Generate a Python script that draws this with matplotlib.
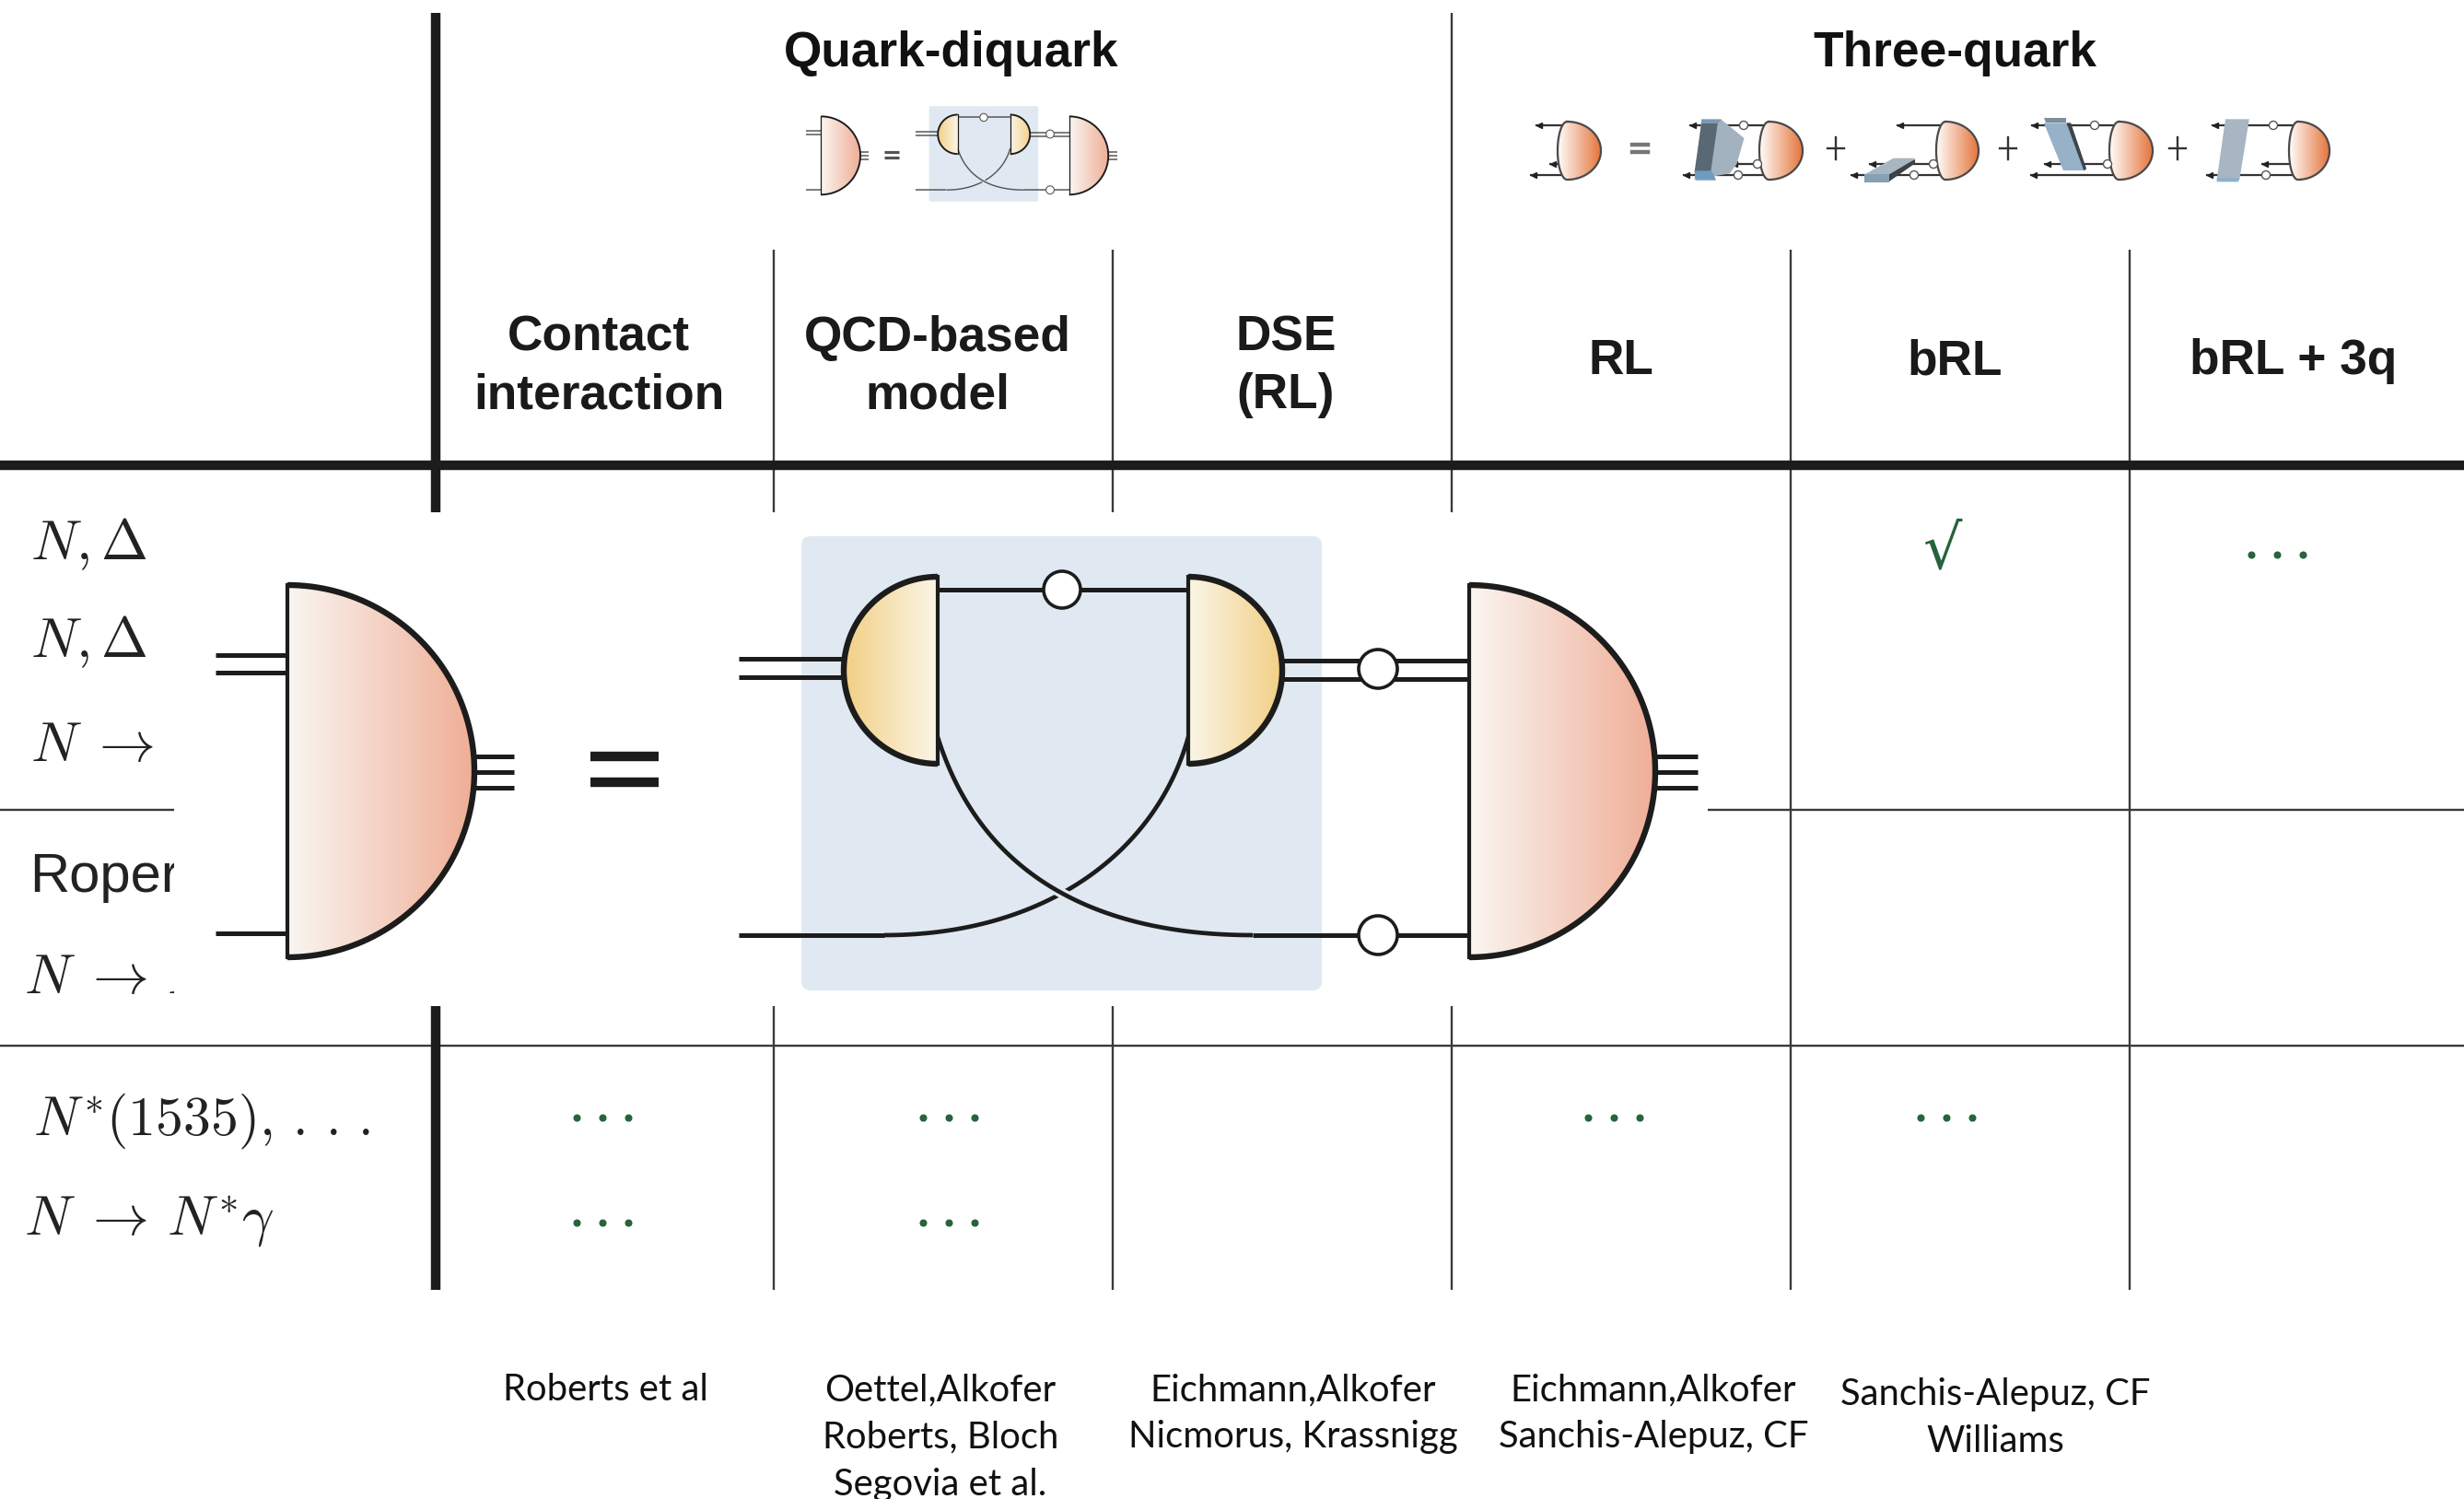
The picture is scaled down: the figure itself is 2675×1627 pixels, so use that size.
import numpy as np
import matplotlib
matplotlib.use('Agg')
import matplotlib.pyplot as plt
from matplotlib.patches import Polygon, Rectangle, Circle, PathPatch, FancyBboxPatch
from matplotlib.path import Path
from matplotlib.colors import LinearSegmentedColormap

plt.rcParams['mathtext.fontset'] = 'cm'

# ---- chart content ----
group_labels = ['Quark-diquark', 'Three-quark']
column_labels = ['Contact\ninteraction', 'QCD-based\nmodel', 'DSE\n(RL)', 'RL', 'bRL', 'bRL + 3q']
row_labels = [r'$N,\Delta$', r'$N,\Delta$', r'$N\;\rightarrow\,\Delta\gamma$', 'Roper',
              r'$N\;\rightarrow\,N^{*}\gamma$', r'$N^{*}(1535),\,.\,.\,.$', r'$N\;\rightarrow\,N^{*}\gamma$']
author_labels = ['Roberts et al', 'Oettel,Alkofer\nRoberts, Bloch\nSegovia et al.',
                 'Eichmann,Alkofer\nNicmorus, Krassnigg', 'Eichmann,Alkofer\nSanchis-Alepuz, CF',
                 'Sanchis-Alepuz, CF\nWilliams']

W, H = 2675, 1627
fig = plt.figure(figsize=(W / 100, H / 100), dpi=100)
ax = fig.add_axes([0, 0, 1, 1])
ax.axis('off')

INK = '#1c1c1c'
GREEN = '#27633c'
col_x = [840, 1208, 1576, 1944, 2312]

# ---- table rules ----
def vline(x, y0, y1, lw=1.7, c='#3a3a3a', z=1):
    ax.plot([x, x], [y0, y1], color=c, lw=lw, solid_capstyle='butt', zorder=z)

def hline(y, x0, x1, lw=1.7, c='#3a3a3a', z=1):
    ax.plot([x0, x1], [y, y], color=c, lw=lw, solid_capstyle='butt', zorder=z)

vline(473, 14, 1400, lw=7.5, c=INK, z=2)
vline(col_x[0], 271, 1400)
vline(col_x[1], 271, 1400)
vline(col_x[2], 14, 1400)
vline(col_x[3], 271, 1400)
vline(col_x[4], 271, 1400)
hline(505, 0, W, lw=7.5, c=INK, z=2)
hline(879, 0, W)
hline(1135, 0, W)

# ---- text ----
sans = ['Liberation Sans', 'DejaVu Sans']
gx = [1033, 2122]
for x, s in zip(gx, group_labels):
    ax.text(x, 58, s, ha='center', va='center', family=sans, weight='bold', fontsize=38.3, color='#111111')

col_tx = [650, 1018, 1396, 1760, 2122, 2490]
col_ty = [398, 398, 398, 392, 392, 392]
for x, y, s in zip(col_tx, col_ty, column_labels):
    ax.text(x, y, s, ha='center', va='center', family=sans, weight='bold', fontsize=38.3,
            color='#1a1a1a', linespacing=1.32)

row_x = [33, 33, 33, 32, 26, 36, 26]
row_y = [607, 713, 825, 968, 1078, 1232, 1340]
row_size = [44, 44, 44, 43, 44, 43, 44]
for x, y, s, fs in zip(row_x, row_y, row_labels, row_size):
    if s == 'Roper':
        ax.text(x, y, s, ha='left', va='baseline', family=sans, fontsize=fs, color='#222222', zorder=3)
    else:
        ax.text(x, y, s, ha='left', va='baseline', fontsize=fs, color='#222222', zorder=3)

auth_x = [657, 1021, 1404, 1795, 2166]
auth_y = [1509, 1509, 1509, 1509, 1514]
for x, y, s in zip(auth_x, auth_y, author_labels):
    for k, line in enumerate(s.split('\n')):
        ax.text(x, y + k * 51, line, ha='center', va='center', family=['Lato', 'DejaVu Sans'],
                fontsize=28.8, color='#111111')

# ---- green marks ----
dots_x = [654, 1030, 1752, 2113, 654, 1030, 2472]
dots_y = [1213, 1213, 1213, 1213, 1327, 1327, 602]
for x, y in zip(dots_x, dots_y):
    ax.plot([x - 28, x, x + 28], [y, y, y], ls='none', marker='o', ms=4.8, color=GREEN, zorder=3)
ax.text(2108, 598, '\u221a', ha='center', va='center', fontsize=48, color=GREEN,
        family=['DejaVu Serif', 'DejaVu Sans'], zorder=3)

# ---- white cover under the inset diagram ----
ax.add_patch(Rectangle((189, 556), 1854 - 189, 1092 - 556, fc='white', ec='none', zorder=4))

# ---- diagram helpers ----
def grad(path, x0, x1, y0, y1, c0, c1, z):
    cm = LinearSegmentedColormap.from_list('g', [c0, c1])
    im = ax.imshow(np.linspace(0, 1, 256).reshape(1, -1), cmap=cm, aspect='auto',
                   extent=[x0, x1, y1, y0], zorder=z, interpolation='bilinear')
    im.set_clip_path(PathPatch(path, transform=ax.transData))

def half(xf, xa, yt, yb, c0, c1, T, z, lw_arc, lw_flat):
    t = np.linspace(-np.pi / 2, np.pi / 2, 100)
    cy, ry = (yt + yb) / 2, (yb - yt) / 2
    px, py = T(xf + (xa - xf) * np.cos(t), cy + ry * np.sin(t))
    fx0, fy0 = T(xf, yt)
    fx1, fy1 = T(xf, yb)
    closed = Path(np.vstack([np.column_stack([px, py]), [px[0], py[0]]]))
    ax1, ax2 = sorted([T(xf, cy)[0], T(xa, cy)[0]])
    grad(closed, ax1, ax2, fy0, fy1, c0 if xa > xf else c1, c1 if xa > xf else c0, z)
    ax.plot(px, py, color=INK, lw=lw_arc, zorder=z + 0.2, solid_capstyle='butt')
    ax.plot([fx0, fx1], [fy0, fy1], color=INK, lw=lw_flat, zorder=z + 0.2, solid_capstyle='projecting')

def qdq(T, g, s, z, ink=INK):
    def L(xs, ys, w=3.6, zz=z + 0.1, c=ink):
        a, b = T(np.array(xs, float), np.array(ys, float))
        ax.plot(a, b, color=c, lw=w * s, zorder=zz, solid_capstyle='butt')
    def C(x, y, r=20):
        a, b = T(x, y)
        ax.add_patch(Circle((a, b), r * g, fc='white', ec=ink, lw=2.6 * s, zorder=z + 0.8))
    def bez(P, n=80):
        t = np.linspace(0, 1, n)[:, None]
        P = np.array(P, float)
        q = (1 - t) ** 3 * P[0] + 3 * (1 - t) ** 2 * t * P[1] + 3 * (1 - t) * t ** 2 * P[2] + t ** 3 * P[3]
        return q[:, 0], q[:, 1]
    x0, y0 = T(870, 582)
    x1, y1 = T(1435, 1075)
    ax.add_patch(FancyBboxPatch((x0 + 10 * g, y0 + 10 * g), x1 - x0 - 20 * g, y1 - y0 - 20 * g,
                                boxstyle=f'round,pad={10 * g}', fc='#e0e9f1', ec='none', zorder=z))
    # left vertex
    for y in (711, 730):
        L([234, 312], [y, y])
    L([234, 312], [1013, 1013])
    half(312, 515, 635, 1039, '#faf6f2', '#efae96', T, z + 0.2, 4.6 * s, 3 * s)
    for y in (821, 838, 855):
        L([515, 558], [y, y])
    # equals
    for y in (821, 849):
        L([641, 715], [y, y], w=7.5)
    # crossing quark lines
    xa, ya = bez([(1290, 800), (1255, 925), (1135, 1015), (960, 1015)])
    L(xa, ya, w=3.4)
    L([802, 960], [1015, 1015], w=3.6)
    xb, yb = bez([(1018, 800), (1065, 950), (1190, 1015), (1360, 1015)])
    L(xb, yb, w=8, zz=z + 0.12, c='#e0e9f1')
    L(xb, yb, w=3.4, zz=z + 0.14)
    L([1360, 1595], [1015, 1015])
    # kernel
    L([1018, 1290], [640, 640])
    for y in (715, 735):
        L([802, 916], [y, y])
        L([1392, 1595], [y + 2, y + 2])
    half(1018, 916, 626, 829, '#fbf6e8', '#f2cf85', T, z + 0.3, 4.6 * s, 3 * s)
    half(1290, 1392, 626, 829, '#fbf6e8', '#f2cf85', T, z + 0.3, 4.6 * s, 3 * s)
    C(1153, 640)
    C(1496, 726, 21)
    C(1496, 1015, 21)
    # right vertex
    half(1595, 1797, 635, 1039, '#faf6f2', '#efae96', T, z + 0.2, 4.6 * s, 3 * s)
    for y in (821, 838, 855):
        L([1797, 1843], [y, y])

# large inset
qdq(lambda x, y: (x, y), 1.0, 1.0, 5)

# small copy in the header
sc = 0.21
qdq(lambda x, y: (875 + (x - 234) * sc, 169 + (y - 838) * sc), sc, 0.3, 5, ink='#555555')

# ---- three-quark header ----
def zx(v):
    return 1640 + np.asarray(v, float) * 0.587

def zy(v):
    return 100 + np.asarray(v, float) / 3

def poly(xs, ys, c, z=6.5):
    ax.add_patch(Polygon(np.column_stack([zx(xs), zy(ys)]), closed=True, fc=c, ec='none', zorder=z))

def lens(x0, x1):
    y0, y1 = 132, 195
    c = x0 + 0.22 * (x1 - x0)
    cy, ry = (y0 + y1) / 2, (y1 - y0) / 2
    t = np.linspace(-np.pi / 2, np.pi / 2, 60)
    rx, ry_ = c + (x1 - c) * np.cos(t), cy + ry * np.sin(t)
    lx, ly = c - (c - x0) * np.cos(t[::-1]), cy + ry * np.sin(t[::-1])
    X, Y = np.r_[rx, lx, rx[0]], np.r_[ry_, ly, ry_[0]]
    grad(Path(np.column_stack([X, Y])), x0, x1, y0, y1, '#fffdfb', '#e5743c', 6)
    ax.plot(X, Y, color='#4a4a4a', lw=1.6, zorder=6.2)

def wire(x0, x1, y, head=True):
    ax.plot([x0, x1], [y, y], color='#333333', lw=1.6, zorder=5.5)
    if head:
        ax.plot([x0 + 3], [y], marker='<', ms=5, color='#222222', zorder=5.6)

def bub(x, y):
    ax.add_patch(Circle((x, y), 4.5, fc='white', ec='#555555', lw=1, zorder=6.6))

lens_x = [(1691, 1738), (1910, 1957), (2102, 2148), (2290, 2337), (2485, 2529)]
for a, b in lens_x:
    lens(a, b)

# wires: left end, right end, height
for x0, x1, y in [(1668, 1700, 136), (1662, 1696, 190), (1683, 1694, 178),
                  (1835, 1918, 136), (1828, 1918, 190), (1880, 1912, 178),
                  (2060, 2112, 136), (2010, 2106, 190), (2030, 2104, 178),
                  (2206, 2296, 136), (2205, 2294, 190), (2220, 2292, 178),
                  (2402, 2492, 136), (2396, 2490, 190), (2456, 2488, 178)]:
    wire(x0, x1, y)

# interaction blocks (zoom-crop coordinates)
poly([353, 390, 432, 418, 405, 340], [90, 90, 150, 235, 265, 285], '#a3b2bf')
poly([353, 383, 370, 340], [100, 100, 260, 260], '#5a6874', 6.6)
poly([353, 390, 383, 353], [88, 88, 102, 102], '#7c98b4', 6.7)
poly([340, 372, 380, 342], [256, 256, 287, 287], '#6f9bc0', 6.7)
poly([655, 708, 748, 700], [268, 215, 215, 291], '#a7b6c1', 6.6)
poly([700, 748, 748, 700], [268, 218, 232, 291], '#3b4349', 6.7)
poly([655, 700, 700, 655], [266, 266, 293, 293], '#87a0b2', 6.8)
poly([986, 1028, 1063, 1022], [100, 100, 255, 255], '#96b1c8', 6.6)
poly([1028, 1036, 1065, 1060], [100, 100, 250, 255], '#3c454c', 6.7)
poly([986, 1028, 1028, 990], [83, 83, 100, 100], '#7d8f9e', 6.8)
poly([1322, 1366, 1348, 1306], [88, 88, 285, 285], '#a7b6c2', 6.6)
poly([1306, 1348, 1346, 1306], [280, 280, 292, 292], '#8eafcb', 6.8)

for x, y in [(1893, 136), (1908, 178), (1887, 190), (2099, 178), (2078, 190),
             (2274, 136), (2288, 178), (2468, 136), (2460, 190)]:
    bub(x, y)

# equals and plus signs
ax.plot([1772, 1789], [157, 157], color='#777777', lw=3.2, zorder=6)
ax.plot([1772, 1789], [165, 165], color='#777777', lw=3.2, zorder=6)
for x in (1993, 2180, 2364):
    ax.plot([x - 9, x + 9], [161, 161], color='#333333', lw=1.7, zorder=6)
    ax.plot([x, x], [149, 173], color='#333333', lw=1.7, zorder=6)

ax.set_xlim(0, W)
ax.set_ylim(H, 0)
fig.savefig('out.png', dpi=100, facecolor='white')
